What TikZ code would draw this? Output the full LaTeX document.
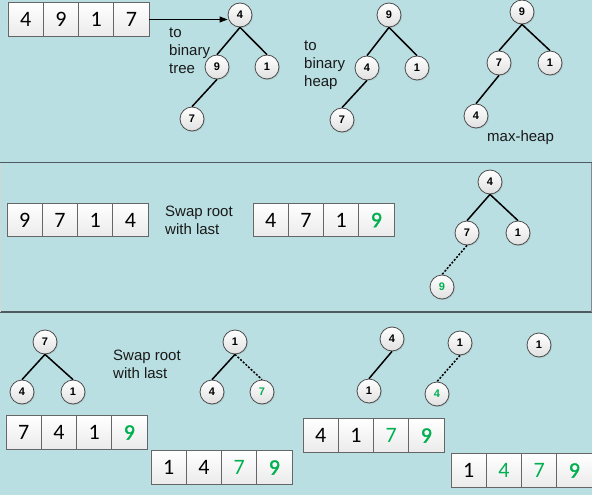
\documentclass[tikz,border=0pt]{standalone}
\usepackage{fontspec}
\setmainfont{Liberation Sans}
\newfontfamily\cellfont{Carlito}
\newfontfamily\cellheavy[FakeBold=1.4]{Carlito}
\usetikzlibrary{arrows.meta,positioning,shadows}
\definecolor{panelblue}{HTML}{BADFE2}
\definecolor{rulegray}{HTML}{4F5A60}
\definecolor{sortgreen}{HTML}{00B050}
\tikzset{
  cell/.style={draw=black!60, line width=0.8pt, top color=white, bottom color=black!8,
    minimum width=35.25pt, minimum height=33.5pt, inner sep=0pt, outer sep=0pt,
    font=\cellfont\fontsize{22}{22}\selectfont},
  knot/.style={circle, draw=black!70, line width=0.8pt, top color=white, bottom color=black!12,
    minimum size=24pt, inner sep=0pt, font=\bfseries\fontsize{11}{11}\selectfont,
    drop shadow={shadow xshift=1pt, shadow yshift=-1pt, opacity=0.25}},
  link/.style={line width=1.5pt},
  swaplink/.style={line width=1.5pt, dash pattern=on 2pt off 1.6pt},
  sorted/.style={text=sortgreen},
  last/.style={text=sortgreen, font=\cellheavy\fontsize{22}{22}\selectfont},
  note/.style={align=left, anchor=west, inner sep=0pt, text=black!90,
    font=\fontsize{15}{18}\selectfont}
}
\begin{document}
\begin{tikzpicture}[x=1pt, y=-1pt]
\useasboundingbox (0,0) rectangle (592,495);
\fill[panelblue] (0,0) rectangle (592,495);
\draw[rulegray, line width=1.5pt] (0,162.5) -- (592,162.5);
\draw[rulegray, line width=1.5pt] (0,312) -- (592,312);
\draw[rulegray!70, line width=0.8pt] (591.5,162.5) -- (591.5,312);
\draw[rulegray!25, line width=0.8pt] (0.5,162.5) -- (0.5,312);

% first row: array to binary tree to heap
\node[cell] (a1) at (25.6,19.5) {4};
\node[cell, right=0pt of a1] (a2) {9};
\node[cell, right=0pt of a2] (a3) {1};
\node[cell, right=0pt of a3] (a4) {7};
\node[note] (tree) at (169,50.5) {to\\binary\\tree};

\node[knot] (t1r) at (240,15) {4};
\node[knot] (t1a) at (217,67) {9};
\node[knot] (t1b) at (267,67) {1};
\node[knot] (t1c) at (192,119) {7};
\draw[-{Triangle[length=8pt,width=6pt]}, line width=0.8pt] (a4.east) -- (a4.east -| t1r.west);
\draw[link] (t1r.south) -- (t1a.north);
\draw[link] (t1r.south) -- (t1b.north);
\draw[link] (t1a.south) -- (t1c.north);

\node[note] (heap) at (304,65) {to\\binary\\heap};
\node[knot] (t2r) at (389,15) {9};
\node[knot] (t2a) at (367,68) {4};
\node[knot] (t2b) at (417,68) {1};
\node[knot] (t2c) at (342,120) {7};
\draw[link] (t2r.south) -- (t2a.north);
\draw[link] (t2r.south) -- (t2b.north);
\draw[link] (t2a.south) -- (t2c.north);

\node[knot] (t3r) at (522,12) {9};
\node[knot] (t3a) at (499,63) {7};
\node[knot] (t3b) at (550,63) {1};
\node[knot] (t3c) at (476,116) {4};
\draw[link] (t3r.south) -- (t3a.north);
\draw[link] (t3r.south) -- (t3b.north);
\draw[link] (t3a.south) -- (t3c.north);
\node[note] (maxheap) at (487,138) {max-heap};

% second row: first swap
\node[cell] (b1) at (24.6,220) {9};
\node[cell, right=0pt of b1] (b2) {7};
\node[cell, right=0pt of b2] (b3) {1};
\node[cell, right=0pt of b3] (b4) {4};
\node[note] (swap1) at (165,220.5) {Swap root\\with last};
\node[cell] (c1) at (270.6,220) {4};
\node[cell, right=0pt of c1] (c2) {7};
\node[cell, right=0pt of c2] (c3) {1};
\node[cell, last, right=0pt of c3] (c4) {9};

\node[knot] (t4r) at (490,182) {4};
\node[knot] (t4a) at (467,233) {7};
\node[knot] (t4b) at (518,233) {1};
\node[knot, sorted] (t4c) at (442,287) {9};
\draw[link] (t4r.south) -- (t4a.north);
\draw[link] (t4r.south) -- (t4b.north);
\draw[swaplink] (t4a.south) -- (t4c.north);

% third row: remaining swaps
\node[knot] (t5r) at (45,342) {7};
\node[knot] (t5a) at (22,392) {4};
\node[knot] (t5b) at (73,392) {1};
\draw[link] (t5r.south) -- (t5a.north);
\draw[link] (t5r.south) -- (t5b.north);
\node[note] (swap2) at (113,364) {Swap root\\with last};

\node[knot] (t6r) at (235,342) {1};
\node[knot] (t6a) at (212,392) {4};
\node[knot, sorted] (t6b) at (262,392) {7};
\draw[link] (t6r.south) -- (t6a.north);
\draw[swaplink] (t6r.south) -- (t6b.north);

\node[knot] (t7r) at (392,339) {4};
\node[knot] (t7a) at (369,391) {1};
\draw[link] (t7r.south) -- (t7a.north);

\node[knot] (t8r) at (460,343) {1};
\node[knot, sorted] (t8a) at (437,394) {4};
\draw[swaplink] (t8r.south) -- (t8a.north);

\node[knot] (t9r) at (539,345) {1};

\node[cell] (d1) at (23.6,432.5) {7};
\node[cell, right=0pt of d1] (d2) {4};
\node[cell, right=0pt of d2] (d3) {1};
\node[cell, last, right=0pt of d3] (d4) {9};

\node[cell] (e1) at (168.6,467.5) {1};
\node[cell, right=0pt of e1] (e2) {4};
\node[cell, sorted, right=0pt of e2] (e3) {7};
\node[cell, last, right=0pt of e3] (e4) {9};

\node[cell] (f1) at (320.6,435.5) {4};
\node[cell, right=0pt of f1] (f2) {1};
\node[cell, sorted, right=0pt of f2] (f3) {7};
\node[cell, last, right=0pt of f3] (f4) {9};

\node[cell] (g1) at (468.6,470.5) {1};
\node[cell, sorted, right=0pt of g1] (g2) {4};
\node[cell, sorted, right=0pt of g2] (g3) {7};
\node[cell, last, right=0pt of g3] (g4) {9};
\end{tikzpicture}
\end{document}
